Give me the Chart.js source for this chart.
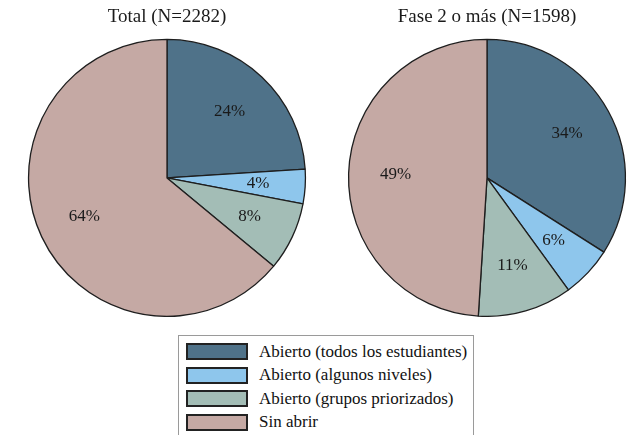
<!DOCTYPE html>
<html>
<head>
<meta charset="utf-8">
<script src="https://cdn.jsdelivr.net/npm/chart.js@4/dist/chart.umd.min.js"></script>
<style>
  body { margin: 0; background: #fff; width: 641px; height: 435px; overflow: hidden; position: relative; }
  .pie { position: absolute; top: 0; width: 300px; height: 317px; }
  #legend {
    position: absolute; left: 178px; top: 335px; width: 296px; height: 110px;
    border: 1px solid #9a9a9a; box-sizing: border-box;
    font-family: "Liberation Serif", "Times New Roman", serif; font-size: 17px; color: #111;
    padding-top: 4px;
  }
  .item { display: flex; align-items: center; height: 23.5px; }
  .swatch { width: 58px; height: 13px; border: 2px solid #222; margin: 0 11px 0 7px; }
</style>
</head>
<body>
<div class="pie" style="left:17px"><canvas id="pieTotal"></canvas></div>
<div class="pie" style="left:337px"><canvas id="pieFase"></canvas></div>
<div id="legend"></div>

<script>
// Categories and colors
const categories = [
  "Abierto (todos los estudiantes)",
  "Abierto (algunos niveles)",
  "Abierto (grupos priorizados)",
  "Sin abrir",
];
const colors = ["#4f7289", "#8ec6ec", "#a3bdb6", "#c5a9a4"];

// Percentages per panel
const totalValues = [24, 4, 8, 64];
const faseValues = [34, 6, 11, 49];
const totalTitle = "Total (N=2282)";
const faseTitle = "Fase 2 o más (N=1598)";

const serif = "'Liberation Serif', 'Times New Roman', serif";

// Plugin that writes the percent label inside each slice
const sliceLabels = {
  id: "sliceLabels",
  afterDatasetsDraw(chart) {
    const ctx = chart.ctx;
    const meta = chart.getDatasetMeta(0);
    ctx.save();
    ctx.font = Chart.helpers.toFont({ family: serif, size: 17 }).string;
    ctx.fillStyle = "#1a1a1a";
    ctx.textAlign = "center";
    ctx.textBaseline = "middle";
    meta.data.forEach((arc, i) => {
      const mid = (arc.startAngle + arc.endAngle) / 2;
      const r = arc.outerRadius * 0.66;
      const x = arc.x + Math.cos(mid) * r;
      const y = arc.y + Math.sin(mid) * r;
      ctx.fillText(chart.data.datasets[0].data[i] + "%", x, y);
    });
    ctx.restore();
  },
};

function makePie(id, values, title) {
  const ctx = document.getElementById(id).getContext("2d");
  return new Chart(ctx, {
    type: "pie",
    data: {
      labels: categories,
      datasets: [{
        data: values,
        backgroundColor: colors,
        borderColor: "#1e1e1e",
        borderWidth: 1.3,
      }],
    },
    options: {
      responsive: true,
      maintainAspectRatio: false,
      animation: false,
      layout: { padding: 0 },
      plugins: {
        legend: { display: false },
        tooltip: { enabled: false },
        title: {
          display: true,
          text: title,
          color: "#1a1a1a",
          font: { family: serif, size: 19, weight: "normal" },
          padding: { top: 6, bottom: 10 },
        },
      },
    },
    plugins: [sliceLabels],
  });
}

makePie("pieTotal", totalValues, totalTitle);
makePie("pieFase", faseValues, faseTitle);

// Legend built from the same arrays
const legend = document.getElementById("legend");
categories.forEach((label, i) => {
  const row = document.createElement("div");
  row.className = "item";
  const sw = document.createElement("div");
  sw.className = "swatch";
  sw.style.background = colors[i];
  const txt = document.createElement("span");
  txt.textContent = label;
  row.appendChild(sw);
  row.appendChild(txt);
  legend.appendChild(row);
});
</script>
</body>
</html>
